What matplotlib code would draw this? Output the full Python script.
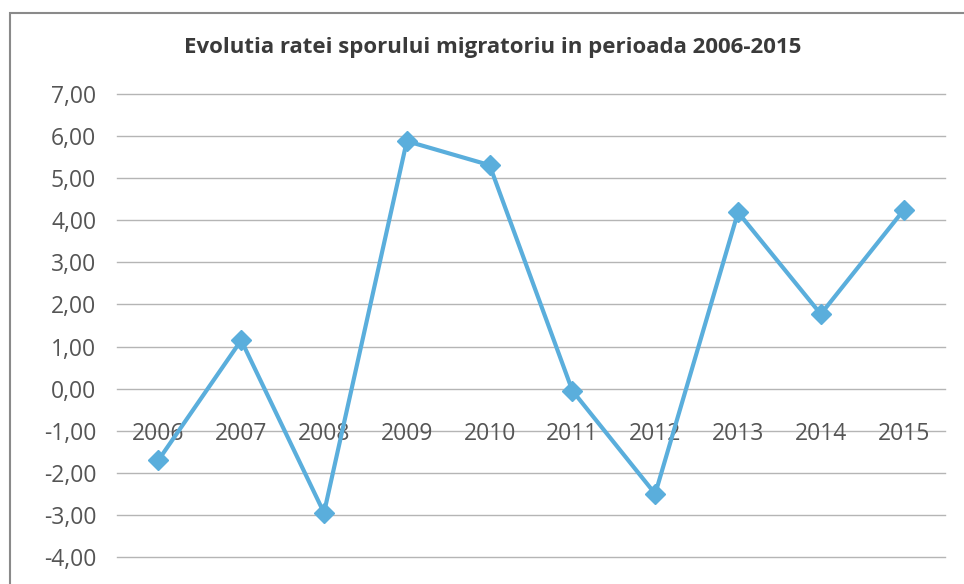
import matplotlib
matplotlib.use("Agg")
import matplotlib.pyplot as plt
from matplotlib.patches import Rectangle

years = ["2006", "2007", "2008", "2009", "2010", "2011", "2012", "2013", "2014", "2015"]
values = [-1.70, 1.15, -2.95, 5.88, 5.31, -0.05, -2.50, 4.19, 1.77, 4.24]
yticks = [-4, -3, -2, -1, 0, 1, 2, 3, 4, 5, 6, 7]
title = "Evolutia ratei sporului migratoriu in perioada 2006-2015"

plt.rcParams['font.family'] = ['Open Sans', 'DejaVu Sans']

fig = plt.figure(figsize=(9.64, 5.84), dpi=100)
fig.patch.set_facecolor("white")
fig.patches.append(Rectangle((10/964, -0.01), 1.0, 1 - 13/584 + 0.01,
                             transform=fig.transFigure, fill=False,
                             edgecolor="#8a8a8a", linewidth=1.5))

ax = fig.add_axes([117/964, 1 - 557/584, 828/964, 463/584])
x = list(range(len(years)))
ax.set_xlim(-0.5, len(years) - 0.5)
ax.set_ylim(-4, 7)
ax.set_yticks(yticks)
ax.set_yticklabels([f"{v:.2f}".replace(".", ",") for v in yticks],
                   fontsize=16.5, color="#555555")
ax.tick_params(axis="y", length=0, pad=15)
ax.set_xticks([])
for s in ax.spines.values():
    s.set_visible(False)
ax.grid(axis="y", color="#b5b5b5", linewidth=1)
for gl in ax.get_ygridlines():
    gl.set_clip_on(False)
ax.set_axisbelow(True)

for xi, lab in zip(x, years):
    ax.text(xi, -1.08, lab, ha="center", va="center", fontsize=16.5,
            color="#555555", zorder=1)

ax.plot(x, values, color="#5aaedc", linewidth=3, marker="D",
        markersize=10, markerfacecolor="#5aaedc", markeredgecolor="#5aaedc",
        zorder=3)

fig.text(493/964, 1 - 48/584, title, ha="center", va="center",
         fontsize=16, fontweight="bold", color="#3a3a3a")

fig.savefig("out.png", dpi=100, facecolor="white")
